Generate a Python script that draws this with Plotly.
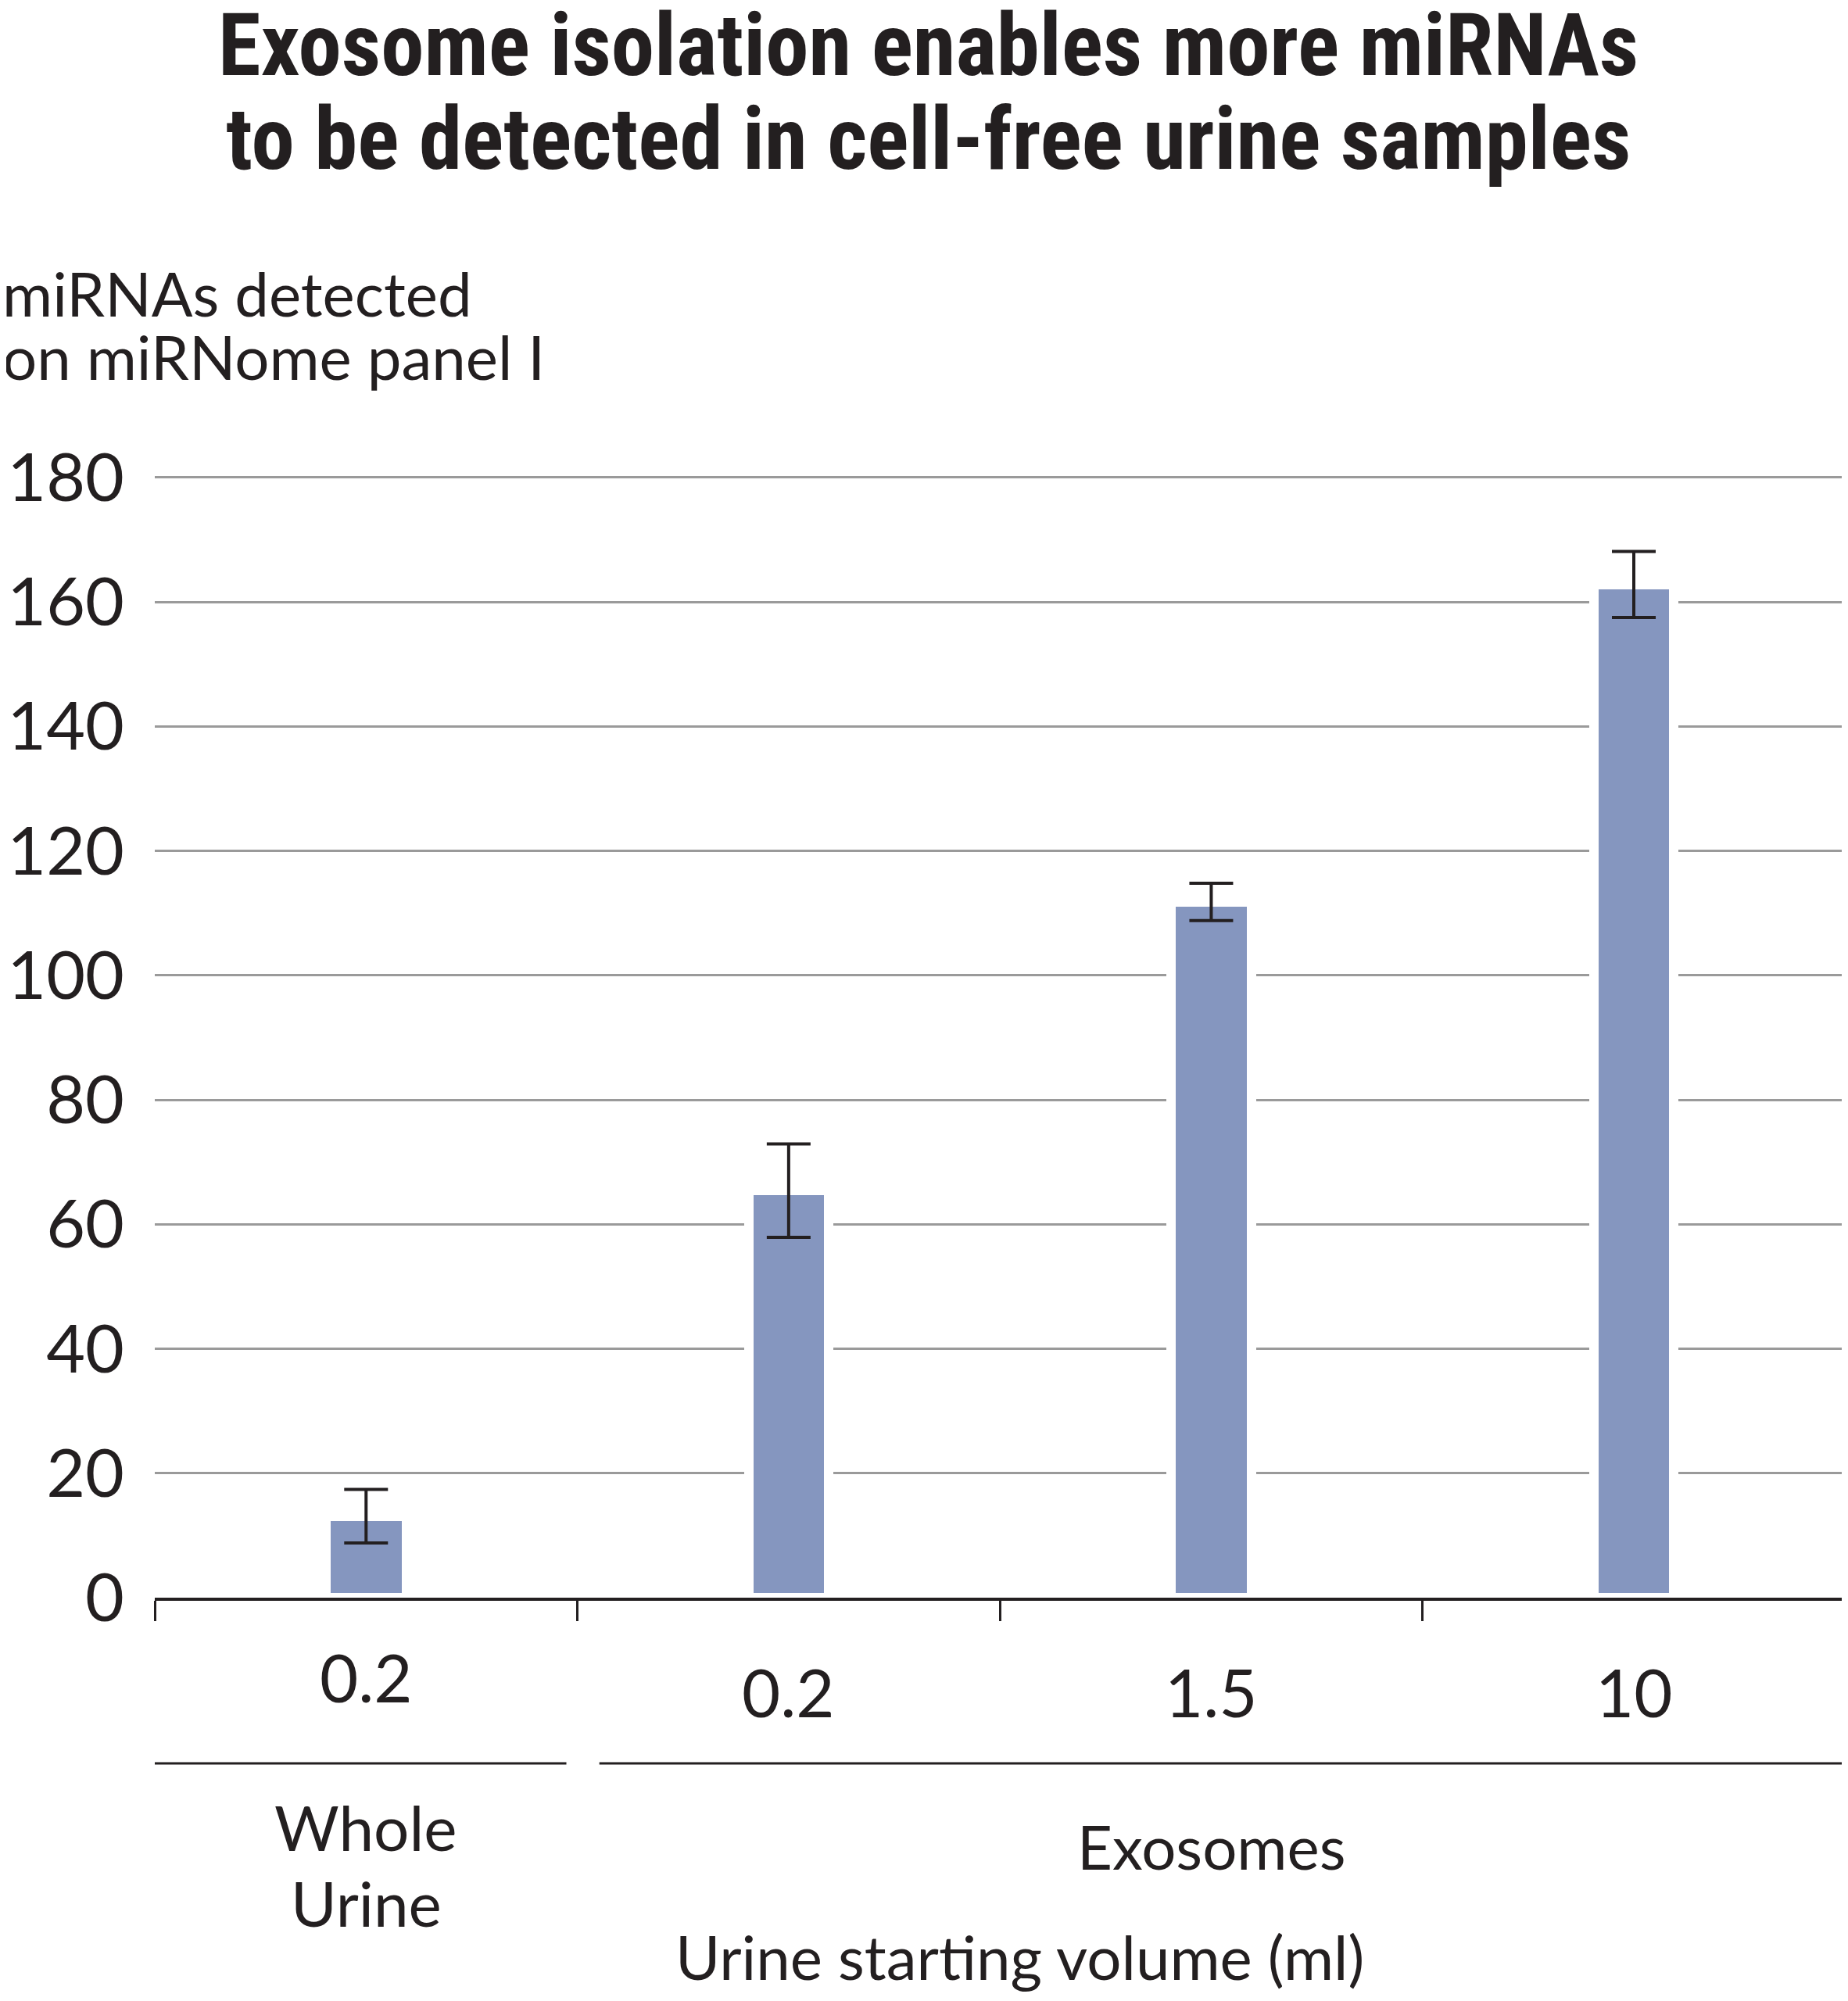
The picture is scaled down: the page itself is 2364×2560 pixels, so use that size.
import plotly.graph_objects as go

# ---- data ----
categories = ["Whole 0.2", "Exo 0.2", "Exo 1.5", "Exo 10"]
tick_labels = ["0.2", "0.2", "1.5", "10"]
values = [13.1, 65.4, 111.8, 162.8]
errors = [4.3, 7.5, 3.0, 5.3]
y_ticks = [0, 20, 40, 60, 80, 100, 120, 140, 160, 180]
group_labels = [["Whole", "Urine"], ["Exosomes"]]
title_lines = ["Exosome isolation enables more miRNAs", "to be detected in cell-free urine samples"]
y_title_lines = ["miRNAs detected", "on miRNome panel I"]
x_title = "Urine starting volume (ml)"

OFF = 8  # page body margin
W, H = 2364, 2560
# target-pixel plot area
PL, PR, PT, PB = 197.5, 2363, 570.5, 2044
L = PL - OFF
R = W - (PR - OFF)
T = PT - OFF
B = H - (PB - OFF)
PH = PB - PT
PW = PR - PL
TXT = "#231f20"
FONT = "Lato, 'Open Sans', sans-serif"
XR = [-0.5, 3.505]

def py(ypx):
    return (PB - ypx) / PH

def px(xpx):
    return (xpx - PL) / PW

x_idx = list(range(len(categories)))

fig = go.Figure()
fig.add_trace(go.Bar(
    x=categories, y=values, width=0.19,
    marker=dict(color="#8596BF", line=dict(color="white", width=12)),
    error_y=dict(type="data", array=errors, visible=True, color=TXT, thickness=4, width=28),
    showlegend=False,
))

fig.update_layout(
    width=W, height=H,
    margin=dict(l=L, r=R, t=T, b=B, pad=0, autoexpand=False),
    plot_bgcolor="white", paper_bgcolor="white",
    bargap=0,
    font=dict(family=FONT, color=TXT),
)
fig.update_yaxes(
    automargin=False,
    range=[0, 185], tickvals=y_ticks, ticktext=[str(v) for v in y_ticks],
    showgrid=True, gridcolor="#9a9a9a", gridwidth=3,
    zeroline=False, showline=False, ticks="",
    tickfont=dict(size=86, color=TXT, family=FONT),
    ticklabelstandoff=38,
)
fig.update_xaxes(
    automargin=False,
    type="category", range=XR, showticklabels=False,
    tickson="boundaries", ticks="outside", ticklen=26, tickwidth=3, tickcolor=TXT,
    showline=True, linecolor=TXT, linewidth=4, showgrid=False, zeroline=False,
)

ann = []
# title
for i, t in enumerate(title_lines):
    ann.append(dict(text="<b>" + t + "</b>", x=px(1187), y=py([57, 177][i]), xref="paper", yref="paper",
                    xanchor="center", yanchor="middle", showarrow=False,
                    font=dict(size=111, family="'Liberation Sans Narrow', 'Roboto Condensed', Roboto, sans-serif", color=TXT)))
# y title
for i, t in enumerate(y_title_lines):
    ann.append(dict(text=t, x=px(0), y=py([374, 455][i]), xref="paper", yref="paper",
                    xanchor="left", yanchor="middle", showarrow=False,
                    font=dict(size=78, color=TXT)))
# x tick labels
for i, t in enumerate(tick_labels):
    ann.append(dict(text=t, x=x_idx[i], y=py(2145 if i == 0 else 2164), xref="x", yref="paper",
                    xanchor="center", yanchor="middle", showarrow=False,
                    font=dict(size=85, color=TXT)))
# group labels
for i, t in enumerate(group_labels[0]):
    ann.append(dict(text=t, x=x_idx[0], y=py([2337, 2434][i]), xref="x", yref="paper",
                    xanchor="center", yanchor="middle", showarrow=False,
                    font=dict(size=80, color=TXT)))
ann.append(dict(text=group_labels[1][0], x=x_idx[2], y=py(2362), xref="x", yref="paper",
                xanchor="center", yanchor="middle", showarrow=False,
                font=dict(size=78, color=TXT)))
ann.append(dict(text=x_title, x=px(1304), y=py(2503), xref="paper", yref="paper",
                xanchor="center", yanchor="middle", showarrow=False,
                font=dict(size=78, color=TXT)))
fig.update_layout(annotations=ann)

# group separator lines
fig.add_shape(type="line", xref="x", yref="paper", x0=-0.5, x1=0.474, y0=py(2256), y1=py(2256),
              line=dict(color=TXT, width=3))
fig.add_shape(type="line", xref="x", yref="paper", x0=0.552, x1=XR[1], y0=py(2256), y1=py(2256),
              line=dict(color=TXT, width=3))

fig.write_html("out.html")
